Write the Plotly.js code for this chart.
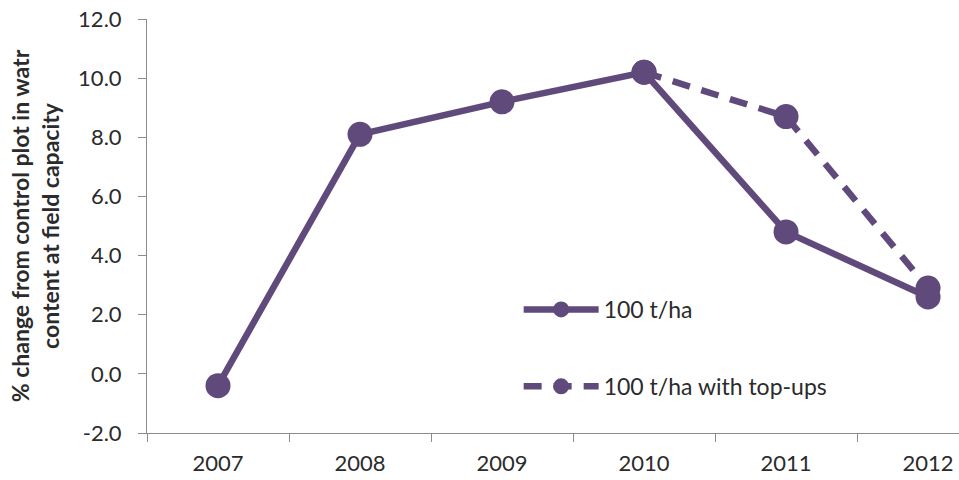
<!DOCTYPE html>
<html>
<head>
<meta charset="utf-8">
<script src="https://cdn.plot.ly/plotly-3.0.1.min.js"></script>
<style>
  html, body { margin: 0; padding: 0; background: #ffffff; overflow: hidden; }
  #chart { width: 959px; height: 480px; }
</style>
</head>
<body>
<div id="chart"></div>
<script>
// Years on the category axis
const years = ['2007', '2008', '2009', '2010', '2011', '2012'];

// % change from control plot in water content at field capacity
const seriesName = '100 t/ha';
const seriesValues = [-0.4, 8.1, 9.2, 10.2, 4.8, 2.6];

const topUpName = '100 t/ha with top-ups';
const topUpYears = ['2010', '2011', '2012'];
const topUpValues = [10.2, 8.7, 2.9];

const yTickVals = [-2, 0, 2, 4, 6, 8, 10, 12];
const yTickText = ['-2.0', '0.0', '2.0', '4.0', '6.0', '8.0', '10.0', '12.0'];

const purple = '#604a7b';
const font = 'Lato, "Open Sans", "DejaVu Sans", sans-serif';
const textColor = '#2b2b2b';

const traces = [
  {
    x: years, y: seriesValues, name: seriesName,
    type: 'scatter', mode: 'lines+markers',
    line: { color: purple, width: 6.5 },
    marker: { color: purple, size: 25 },
    legendgroup: 'a', cliponaxis: false
  },
  {
    x: topUpYears, y: topUpValues, name: topUpName,
    type: 'scatter', mode: 'lines+markers',
    line: { color: purple, width: 6.5, dash: '18px,12px' },
    marker: { color: purple, size: 25 },
    legendgroup: 'b', cliponaxis: false
  }
];

const layout = {
  width: 959, height: 480,
  margin: { l: 147, r: 0, t: 19, b: 47 },
  paper_bgcolor: '#ffffff', plot_bgcolor: '#ffffff',
  font: { family: font, size: 20, color: textColor },
  showlegend: true,
  legend: {
    x: 0.4577, y: 0.2054, xanchor: 'left', yanchor: 'middle',
    bgcolor: 'rgba(0,0,0,0)',
    traceorder: 'grouped', tracegroupgap: 44,
    font: { family: font, size: 23, color: textColor },
    itemwidth: 75
  },
  xaxis: {
    type: 'category',
    range: [-0.5, 5.218],
    showline: true, linecolor: '#8c8c8c', linewidth: 1,
    ticks: 'outside', tickson: 'boundaries', ticklen: 8, tickcolor: '#8c8c8c',
    ticklabelstandoff: 11,
    showgrid: false, zeroline: false,
    tickfont: { family: font, size: 22, color: textColor }
  },
  yaxis: {
    range: [-2, 12],
    tickmode: 'array', tickvals: yTickVals, ticktext: yTickText,
    showline: true, linecolor: '#8c8c8c', linewidth: 1,
    ticks: 'outside', ticklen: 8, tickcolor: '#8c8c8c',
    ticklabelstandoff: 12,
    showgrid: false, zeroline: false,
    tickfont: { family: font, size: 22, color: textColor },
    title: {
      text: '<b>% change from control plot in watr<br>content at field capacity</b>',
      font: { family: font, size: 23, color: textColor },
      standoff: 12
    }
  }
};

Plotly.newPlot('chart', traces, layout, { displayModeBar: false, staticPlot: true });
</script>
</body>
</html>
